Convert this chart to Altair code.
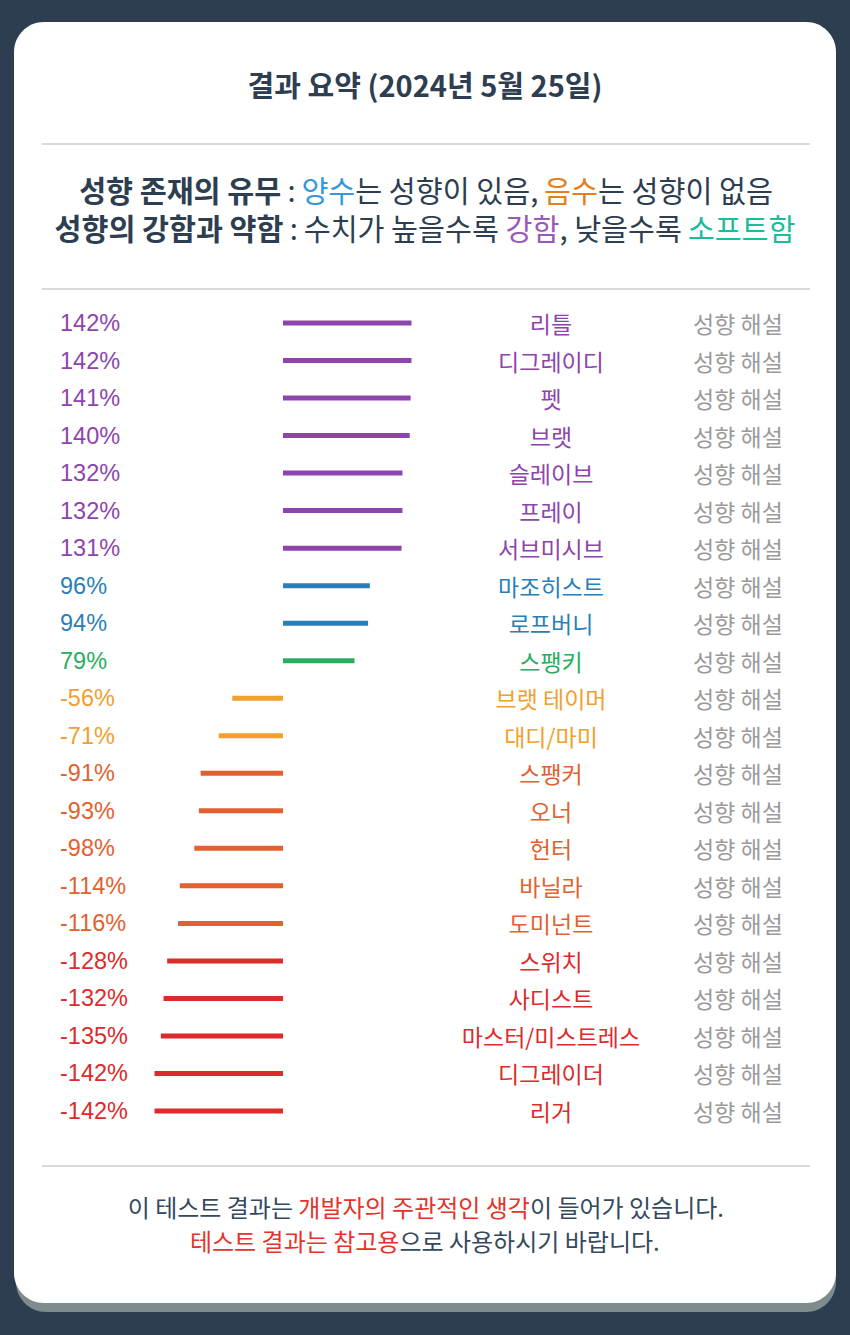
import altair as alt
import pandas as pd

# ---------------- data ----------------
names = ["리틀", "디그레이디", "펫", "브랫", "슬레이브", "프레이", "서브미시브",
         "마조히스트", "로프버니", "스팽키", "브랫 테이머", "대디/마미", "스팽커",
         "오너", "헌터", "바닐라", "도미넌트", "스위치", "사디스트",
         "마스터/미스트레스", "디그레이더", "리거"]
values = [142, 142, 141, 140, 132, 132, 131, 96, 94, 79, -56, -71, -91, -93,
          -98, -114, -116, -128, -132, -135, -142, -142]
groups = (["purple"] * 7 + ["blue"] * 2 + ["green"] + ["orange"] * 2
          + ["carrot"] * 5 + ["red"] * 5)
group_colors = {"purple": "#8e44ad", "blue": "#2a7fb8", "green": "#27ae60",
                "orange": "#f0a02c", "carrot": "#e3612f", "red": "#dd2b2b"}
detail_label = "성향 해설"

title_text = "결과 요약 (2024년 5월 25일)"

DARK = "#2c3e50"
FOOT_DARK = "#34495e"
RED = "#e5332a"
# legend lines: (raw text incl. spaces, color, bold)
legend_line1 = [("성향 존재의 유무", DARK, True), (" : ", DARK, False),
                ("양수", "#3498db", False), ("는 성향이 있음, ", DARK, False),
                ("음수", "#e67e22", False), ("는 성향이 없음", DARK, False)]
legend_line2 = [("성향의 강함과 약함", DARK, True), (" : ", DARK, False),
                ("수치가 높을수록 ", DARK, False), ("강함", "#9b59b6", False),
                (", 낮을수록 ", DARK, False), ("소프트함", "#1abc9c", False)]
footer_line1 = [("이 테스트 결과는 ", FOOT_DARK, False),
                ("개발자의 주관적인 생각", RED, False),
                ("이 들어가 있습니다.", FOOT_DARK, False)]
footer_line2 = [("테스트 결과는 참고용", RED, False),
                ("으로 사용하시기 바랍니다.", FOOT_DARK, False)]
divider_y = [144, 289, 1166]

KR = "Noto Sans CJK KR"
LEG_SIZE = 29.3
FOOT_SIZE = 24


def est_width(s, size):
    w = 0.0
    for ch in s:
        if 0xAC00 <= ord(ch) <= 0xD7A3:
            w += 0.92
        elif ch == " ":
            w += 0.224
        elif ch.isdigit():
            w += 0.555
        elif ch in ",.:":
            w += 0.25
        elif ch == "/":
            w += 0.37
        else:
            w += 0.5
    return w * size


def layout_line(pieces, center_x, y, size):
    total = sum(est_width(p[0], size) for p in pieces)
    cursor = center_x - total / 2
    out = []
    for raw, color, bold in pieces:
        stripped = raw.strip()
        lead = est_width(raw[: len(raw) - len(raw.lstrip())], size)
        out.append({"text": stripped, "x": cursor + lead, "y": y,
                    "color": color, "bold": bold})
        cursor += est_width(raw, size)
    return out


# ---------------- tables ----------------
rows = pd.DataFrame({
    "name": names,
    "value": values,
    "zero": [0] * len(values),
    "label": [f"{v}%" for v in values],
    "color": [group_colors[g] for g in groups],
    "detail": [detail_label] * len(values),
})
leg = pd.DataFrame(layout_line(legend_line1, 426, 193, LEG_SIZE)
                   + layout_line(legend_line2, 425, 231, LEG_SIZE))
foot = pd.DataFrame(layout_line(footer_line1, 425.5, 1210, FOOT_SIZE)
                    + layout_line(footer_line2, 424.5, 1244, FOOT_SIZE))
one = pd.DataFrame({"t": [title_text]})
divs = pd.DataFrame({"y": divider_y})

xscale = alt.Scale(domain=[-142, 142], range=[154.5, 411.5])
yscale = alt.Scale(type="point", domain=names, range=[323, 1111], padding=0)

shadow = alt.Chart(one).mark_rect(cornerRadius=30, color="#7f8c8d").encode(
    x=alt.value(16), x2=alt.value(836), y=alt.value(40), y2=alt.value(1312))
card = alt.Chart(one).mark_rect(cornerRadius=30, color="#ffffff").encode(
    x=alt.value(14), x2=alt.value(836), y=alt.value(22), y2=alt.value(1303))

title = alt.Chart(one).mark_text(font=KR, fontSize=29, fontWeight="bold",
                                 color=DARK, align="center", baseline="middle").encode(
    x=alt.value(425), y=alt.value(88), text="t:N")

dividers = alt.Chart(divs).mark_rule(color="#d9d9d9", strokeWidth=2).encode(
    x=alt.value(42), x2=alt.value(810), y=alt.Y("y:Q", scale=None))

leg_bold = alt.Chart(leg).transform_filter("datum.bold").mark_text(
    font=KR, fontSize=LEG_SIZE, fontWeight="bold", align="left", baseline="middle").encode(
    x=alt.X("x:Q", scale=None), y=alt.Y("y:Q", scale=None),
    text="text:N", color=alt.Color("color:N", scale=None))
leg_norm = alt.Chart(leg).transform_filter("!datum.bold").mark_text(
    font=KR, fontSize=LEG_SIZE, align="left", baseline="middle").encode(
    x=alt.X("x:Q", scale=None), y=alt.Y("y:Q", scale=None),
    text="text:N", color=alt.Color("color:N", scale=None))

bars = alt.Chart(rows).mark_rule(strokeWidth=5, strokeCap="butt").encode(
    x=alt.X("zero:Q", scale=xscale, axis=None), x2="value:Q",
    y=alt.Y("name:N", scale=yscale, axis=None),
    color=alt.Color("color:N", scale=None))

pct = alt.Chart(rows).mark_text(font="Liberation Sans", fontSize=23.5, dy=1,
                                align="left", baseline="middle").encode(
    x=alt.value(60), y=alt.Y("name:N", scale=yscale, axis=None),
    text="label:N", color=alt.Color("color:N", scale=None))

name_txt = alt.Chart(rows).mark_text(font=KR, fontSize=23, dy=3,
                                     align="center", baseline="middle").encode(
    x=alt.value(551), y=alt.Y("name:N", scale=yscale, axis=None),
    text="name:N", color=alt.Color("color:N", scale=None))

detail_txt = alt.Chart(rows).mark_text(font=KR, fontSize=23, dy=3, color="#9a9a9a",
                                       align="center", baseline="middle").encode(
    x=alt.value(738), y=alt.Y("name:N", scale=yscale, axis=None), text="detail:N")

footer = alt.Chart(foot).mark_text(font=KR, fontSize=FOOT_SIZE, align="left",
                                   baseline="middle").encode(
    x=alt.X("x:Q", scale=None), y=alt.Y("y:Q", scale=None),
    text="text:N", color=alt.Color("color:N", scale=None))

chart = alt.layer(
    shadow, card, title, dividers, leg_bold, leg_norm,
    bars, pct, name_txt, detail_txt, footer
).resolve_scale(x="independent", y="independent", color="independent").properties(
    width=850, height=1335, autosize="none", padding=0, background="#2c3e50"
).configure_view(stroke=None)

chart.save("out.html", embed_options={"renderer": "svg", "actions": False})
